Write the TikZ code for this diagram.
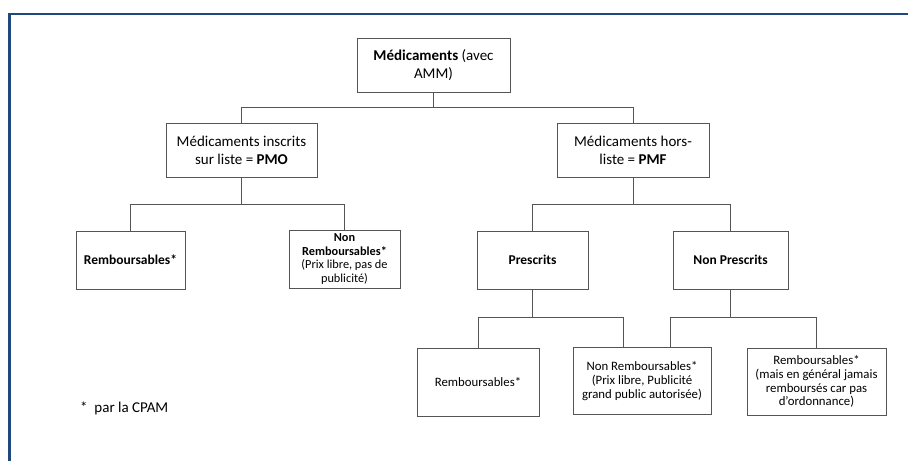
\documentclass[tikz,border=0pt]{standalone}
\usepackage{fontspec}
\setmainfont{Carlito}
\definecolor{framebleu}{HTML}{1F497D}
\definecolor{traitgris}{HTML}{555555}

\begin{document}
\begin{tikzpicture}[x=1pt,y=1pt,
        boite/.style={draw=traitgris, line width=0.9pt, fill=white, align=center, inner sep=2pt},
        lien/.style={draw=traitgris, line width=0.9pt},
        grand/.style={font=\fontsize{15}{18}\selectfont},
        moyen/.style={font=\fontsize{13.5}{15.5}\selectfont},
        serre/.style={font=\fontsize{12.3}{13.4}\selectfont, inner sep=1pt},
        petit/.style={font=\fontsize{12.8}{13.8}\selectfont}]
        \useasboundingbox (0,0) rectangle (908,-461);

        % Blue frame, only top and left sides show
        \draw[framebleu, line width=2.5pt] (908,-14) -- (9.5,-14) -- (9.5,-461);

        % Top of the tree
        \node[boite, grand, minimum width=153, minimum height=54] (amm) at (433.5,-65) {\textbf{Médicaments} (avec\\AMM)};

        % Second level
        \node[boite, grand, minimum width=151, minimum height=54] (pmo) at (241.5,-150) {Médicaments inscrits\\sur liste = \textbf{PMO}};
        \node[boite, grand, minimum width=152, minimum height=54] (pmf) at (633,-150) {Médicaments hors-\\liste = \textbf{PMF}};

        % Third level
        \node[boite, moyen, minimum width=109, minimum height=58] (rembA) at (130.5,-260) {\textbf{Remboursables*}};
        \node[boite, serre, minimum width=111, minimum height=58] (nonrembA) at (344.5,-259) {\textbf{Non}\\\textbf{Remboursables*}\\(Prix libre, pas de\\publicité)};
        \node[boite, moyen, minimum width=111, minimum height=58] (prescrits) at (532.5,-260) {\textbf{Prescrits}};
        \node[boite, moyen, minimum width=115, minimum height=58] (nonprescrits) at (730.5,-260) {\textbf{Non Prescrits}};

        % Fourth level
        \node[boite, petit, minimum width=122, minimum height=68] (rembB) at (478,-382) {Remboursables*};
        \node[boite, petit, minimum width=138, minimum height=67] (nonrembB) at (642,-381) {Non Remboursables*\\(Prix libre, Publicité\\grand public autorisée)};
        \node[boite, petit, minimum width=139, minimum height=67] (rembC) at (816.5,-381.5) {Remboursables*\\(mais en général jamais\\remboursés car pas\\d’ordonnance)};

        % Footnote
        \node[grand, anchor=west, inner sep=0pt] (note) at (80,-408) {*~~par la CPAM};

        % Connectors
        \draw[lien] (amm.south) -- ++(0,-15) coordinate (jA) -| (pmo.north);
        \draw[lien] (jA) -| (pmf.north);
        \draw[lien] (pmo.south) -- ++(0,-27) coordinate (jB) -| (rembA.north);
        \draw[lien] (jB) -| (nonrembA.north);
        \draw[lien] (pmf.south) -- ++(0,-27) coordinate (jC) -| (prescrits.north);
        \draw[lien] (jC) -| (nonprescrits.north);
        \draw[lien] (prescrits.south) -- ++(0,-28) coordinate (jD) -| (rembB.north);
        \draw[lien] (jD) -| ([xshift=-19pt]nonrembB.north);
        \draw[lien] (nonprescrits.south) -- ++(0,-28) coordinate (jE) -| ([xshift=28pt]nonrembB.north);
        \draw[lien] (jE) -| (rembC.north);
    \end{tikzpicture}
\end{document}
